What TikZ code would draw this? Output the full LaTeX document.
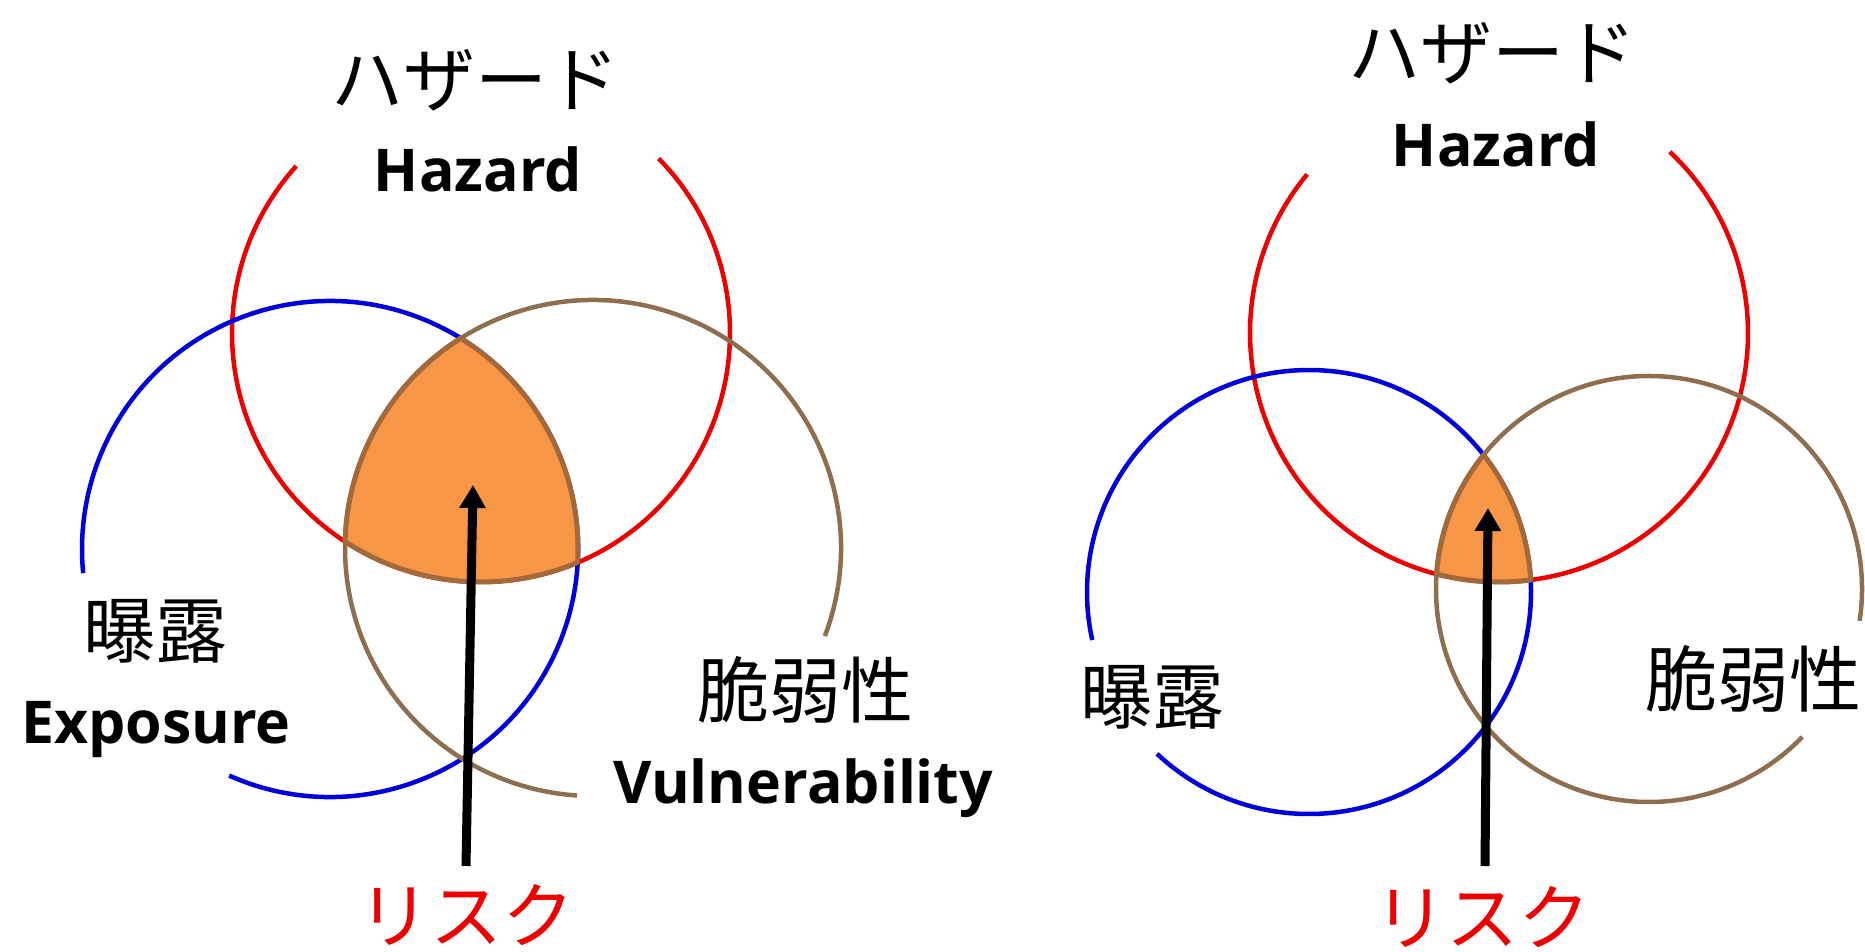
\documentclass[tikz,border=0pt]{standalone}
\usepackage{fontspec}
\newfontfamily\jafont{Noto Sans CJK JP}
\newfontfamily\enfont{Open Sans}
\usetikzlibrary{arrows.meta}
\definecolor{cred}{HTML}{EE0000}
\definecolor{cblue}{HTML}{0000DD}
\definecolor{cbrown}{HTML}{8E6E4E}
\definecolor{corange}{HTML}{F79646}
\definecolor{cedge}{HTML}{A3693A}
\begin{document}
\begin{tikzpicture}[x=1pt,y=1pt,
  ring/.style={line width=4.5pt},
  riskarea/.style={fill=corange,draw=cedge,line width=5pt,line join=round},
  jp/.style={font=\jafont\fontsize{72}{80}\selectfont,inner sep=0pt},
  en/.style={font=\enfont\bfseries\fontsize{59}{70}\selectfont,inner sep=0pt,anchor=base},
  jpred/.style={jp,text=cred},
  pointer/.style={line width=9pt,-{Triangle[width=25pt,length=23pt]}}]
\useasboundingbox (0,0) rectangle (1865,-952);

% ---------- left diagram ----------
\coordinate (R1) at (481,-333);
\coordinate (B1) at (330,-549);
\coordinate (N1) at (593,-548);
\draw[ring,cred]   ([shift={(137.9:249)}]R1) arc[start angle=137.9,end angle=404.5,radius=249];
\draw[ring,cblue]  ([shift={(246:248)}]B1) arc[start angle=246,end angle=545.6,radius=248];
\draw[ring,cbrown] ([shift={(-20.8:248)}]N1) arc[start angle=-20.8,end angle=266.3,radius=248];
\coordinate (T1) at (460.7,-338.2);
\path[riskarea] (T1) arc[start angle=122.24,end angle=178.53,radius=248]
  arc[start angle=236.92,end angle=292.84,radius=249]
  arc[start angle=-3.11,end angle=58.2,radius=248] -- cycle;

\node[jp] (hzJ1) at (475,-80) {ハザード};
\node[en] (hzE1) at (478,-192) {Hazard};
\node[jp] (exJ1) at (155,-631) {曝露};
\node[en] (exE1) at (156,-743) {Exposure};
\node[jp] (vuJ1) at (805,-690) {脆弱性};
\node[en,anchor=base west] (vuE1) at (613,-803) {Vulnerability};
\node[jpred] (rk1) at (466,-915) {リスク};
\coordinate (aL0) at (466,-866);
\coordinate (aL1) at (473,-485);
\draw[pointer] (aL0) -- (aL1);

% ---------- right diagram ----------
\coordinate (R2) at (1499,-333);
\coordinate (B2) at (1309,-592);
\coordinate (N2) at (1649,-589);
\draw[ring,cred]   ([shift={(140.4:249)}]R2) arc[start angle=140.4,end angle=406.7,radius=249];
\draw[ring,cblue]  ([shift={(226.8:222)}]B2) arc[start angle=226.8,end angle=552.5,radius=222];
\draw[ring,cbrown] ([shift={(-8.6:213)}]N2) arc[start angle=-8.6,end angle=316,radius=213];
\coordinate (T2) at (1483.6,-454.9);
\path[riskarea] (T2) arc[start angle=140.96,end angle=175.96,radius=213]
  arc[start angle=255.48,end angle=277.31,radius=249]
  arc[start angle=3.1,end angle=38.14,radius=222] -- cycle;

\node[jp] (hzJ2) at (1492,-53) {ハザード};
\node[en] (hzE2) at (1496,-167) {Hazard};
\node[jp] (exJ2) at (1152,-697) {曝露};
\node[jp] (vuJ2) at (1753,-679) {脆弱性};
\node[jpred] (rk2) at (1482,-917) {リスク};
\coordinate (aR0) at (1485,-866);
\coordinate (aR1) at (1488,-508);
\draw[pointer] (aR0) -- (aR1);
\end{tikzpicture}
\end{document}
